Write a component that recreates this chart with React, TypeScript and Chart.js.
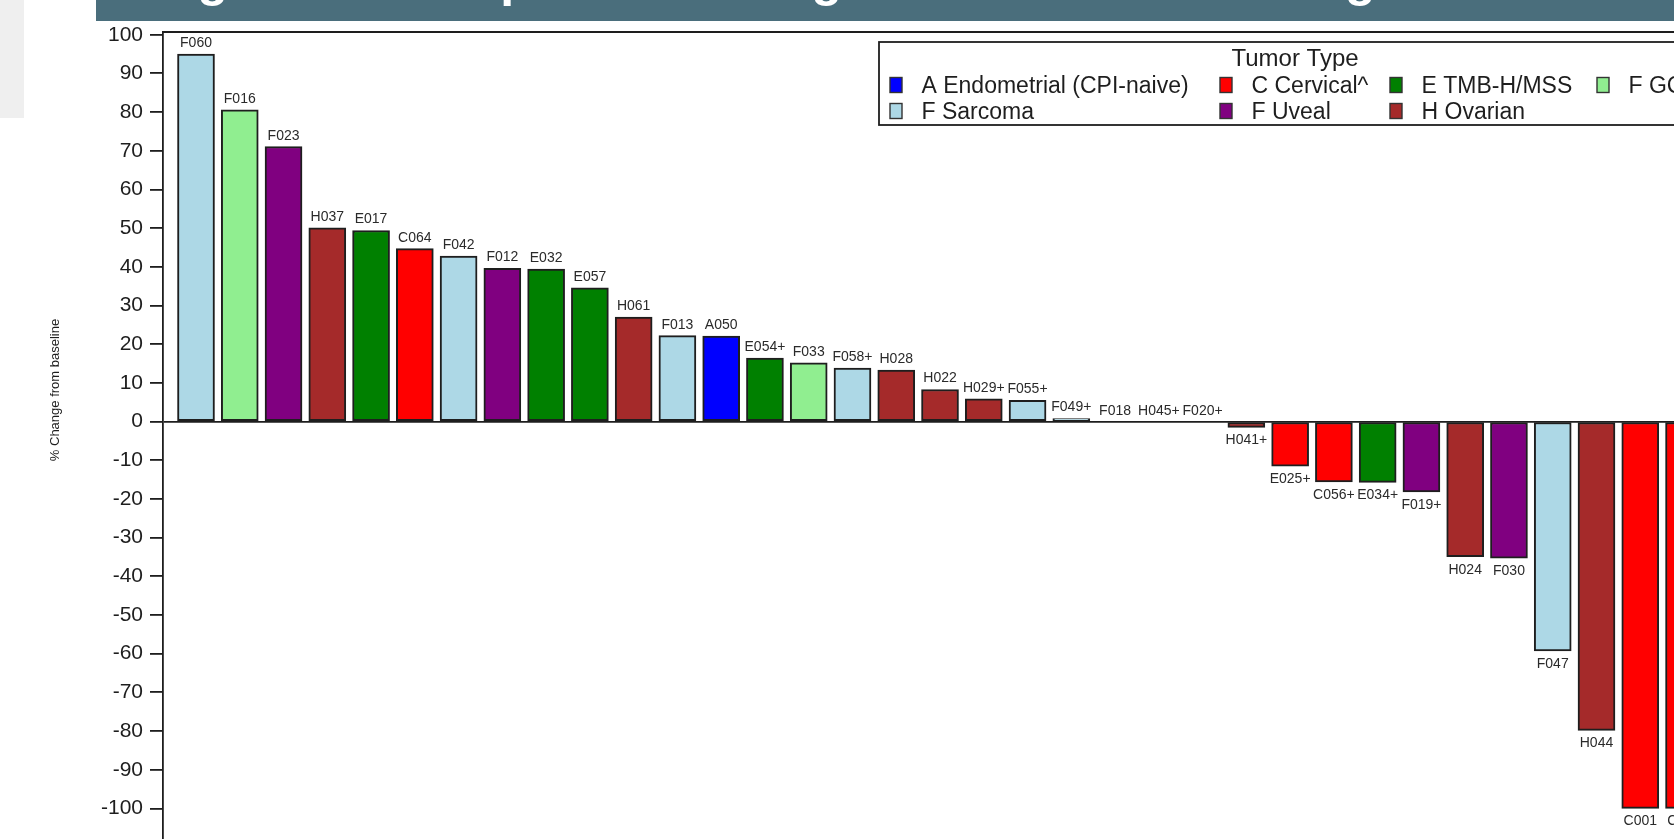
import React, { useEffect, useRef } from "react";
import { Chart, registerables } from "chart.js";

Chart.register(...registerables);

// Patient identifiers, in waterfall order (largest growth first)
const PATIENTS = [
  "F060", "F016", "F023", "H037", "E017", "C064", "F042", "F012", "E032", "E057",
  "H061", "F013", "A050", "E054+", "F033", "F058+", "H028", "H022", "H029+", "F055+",
  "F049+", "F018", "H045+", "F020+", "H041+", "E025+", "C056+", "E034+", "F019+", "H024",
  "F030", "F047", "H044", "C001", "C026",
];

// Best % change from baseline for each patient
const CHANGE = [
  95, 80.6, 71.1, 50.1, 49.4, 44.7, 42.8, 39.6, 39.4, 34.6,
  27.0, 22.2, 22.1, 16.4, 15.2, 13.8, 13.3, 8.3, 5.9, 5.5,
  0.8, 0, 0, 0, -1.5, -11.5, -15.6, -15.7, -18.2, -34.9,
  -35.3, -59.3, -79.8, -100, -100,
];

// Tumor type of each bar
const TUMOR = [
  "Sarcoma", "GCT", "Uveal", "Ovarian", "TMB", "Cervical", "Sarcoma", "Uveal", "TMB", "TMB",
  "Ovarian", "Sarcoma", "Endometrial", "TMB", "GCT", "Sarcoma", "Ovarian", "Ovarian", "Ovarian", "Sarcoma",
  "Sarcoma", "Sarcoma", "Ovarian", "Sarcoma", "Ovarian", "Cervical", "Cervical", "TMB", "Uveal", "Ovarian",
  "Uveal", "Sarcoma", "Ovarian", "Cervical", "Cervical",
];

// Legend entries
const TYPE_KEYS = ["Endometrial", "Cervical", "TMB", "GCT", "Sarcoma", "Uveal", "Ovarian"];
const TYPE_LABELS = [
  "A Endometrial (CPI-naive)", "C Cervical^", "E TMB-H/MSS", "F GCT",
  "F Sarcoma", "F Uveal", "H Ovarian",
];
const TYPE_COLORS = ["#0000ff", "#ff0000", "#008000", "#90ee90", "#add8e6", "#800080", "#a52a2a"];

// Y axis tick values
const Y_TICKS = [100, 90, 80, 70, 60, 50, 40, 30, 20, 10, 0, -10, -20, -30, -40, -50, -60, -70, -80, -90, -100];

const Y_TITLE = "% Change from baseline";
const LEGEND_TITLE = "Tumor Type";
const HEADER = "Figure 2: Best percent change from baseline in target lesions";

const FONT = "'Liberation Sans', Arial, Helvetica, sans-serif";
const INK = "#1e1e1e";

const colorFor = (t: string) => TYPE_COLORS[TYPE_KEYS.indexOf(t)];

// Top frame line of the plot area
const framePlugin = {
  id: "frameTop",
  beforeDatasetsDraw(chart: any) {
    const { ctx, chartArea } = chart;
    ctx.save();
    ctx.strokeStyle = INK;
    ctx.lineWidth = 1.8;
    ctx.beginPath();
    ctx.moveTo(chartArea.left, chartArea.top);
    ctx.lineTo(chartArea.right, chartArea.top);
    ctx.stroke();
    ctx.restore();
  },
};

// Patient id above (growth) or below (shrinkage) each bar
const barLabelPlugin = {
  id: "barLabels",
  afterDatasetsDraw(chart: any) {
    const { ctx } = chart;
    const meta = chart.getDatasetMeta(0);
    ctx.save();
    ctx.font = `14px ${FONT}`;
    ctx.fillStyle = "#2a2a2a";
    ctx.textAlign = "center";
    ctx.textBaseline = "alphabetic";
    meta.data.forEach((bar: any, i: number) => {
      const { x, y } = bar.getProps(["x", "y"], true);
      if (CHANGE[i] >= 0) ctx.fillText(PATIENTS[i], x, y - 7);
      else ctx.fillText(PATIENTS[i], x, y + 17);
    });
    ctx.restore();
  },
};

// Rotated y axis title
const yTitlePlugin = {
  id: "yTitle",
  afterDraw(chart: any) {
    const { ctx } = chart;
    ctx.save();
    ctx.translate(55, 390);
    ctx.rotate(-Math.PI / 2);
    ctx.font = `13px ${FONT}`;
    ctx.fillStyle = INK;
    ctx.textAlign = "center";
    ctx.textBaseline = "middle";
    ctx.fillText(Y_TITLE, 0, 0);
    ctx.restore();
  },
};

// Boxed legend inside the plot area
const legendPlugin = {
  id: "tumorLegend",
  afterDraw(chart: any) {
    const { ctx } = chart;
    const left = 879, top = 42, bottom = 125, right = 1790;
    ctx.save();
    ctx.fillStyle = "#ffffff";
    ctx.fillRect(left, top, right - left, bottom - top);
    ctx.strokeStyle = INK;
    ctx.lineWidth = 1.8;
    ctx.strokeRect(left, top, right - left, bottom - top);

    ctx.fillStyle = INK;
    ctx.font = `24px ${FONT}`;
    ctx.textAlign = "center";
    ctx.textBaseline = "alphabetic";
    ctx.fillText(LEGEND_TITLE, 1295, 66);

    const cols = [890, 1220, 1390, 1597];
    const rows = [93, 119];
    ctx.font = `23px ${FONT}`;
    ctx.textAlign = "left";
    TYPE_LABELS.forEach((label, k) => {
      const col = k < 4 ? k : k - 4;
      const row = k < 4 ? 0 : 1;
      const mx = cols[col];
      const base = rows[row];
      ctx.fillStyle = TYPE_COLORS[k];
      ctx.fillRect(mx, base - 15.5, 12, 15);
      ctx.strokeStyle = "#333";
      ctx.lineWidth = 1.4;
      ctx.strokeRect(mx, base - 15.5, 12, 15);
      ctx.fillStyle = INK;
      ctx.fillText(label, mx + 31.5, base);
    });
    ctx.restore();
  },
};

function WaterfallChart() {
  const ref = useRef<HTMLCanvasElement | null>(null);

  useEffect(() => {
    if (!ref.current) return;
    const chart = new Chart(ref.current, {
      type: "bar",
      data: {
        datasets: [
          {
            data: CHANGE.map((v, i) => ({ x: i, y: v })),
            backgroundColor: TUMOR.map(colorFor),
            borderColor: INK,
            borderWidth: 2,
            borderSkipped: false,
            barThickness: 37,
          } as any,
        ],
      },
      options: {
        animation: false,
        responsive: false,
        maintainAspectRatio: false,
        layout: { padding: { top: 32, left: 0, right: 0, bottom: 0 } },
        plugins: {
          legend: { display: false },
          tooltip: { enabled: false },
        },
        scales: {
          x: {
            type: "linear",
            min: -0.754,
            max: 36.65,
            display: false,
            offset: false,
          },
          y: {
            min: -118.6,
            max: 100.7,
            afterBuildTicks: (s: any) => {
              s.ticks = Y_TICKS.map((v) => ({ value: v }));
            },
            afterFit: (s: any) => {
              s.width = 163;
            },
            border: { display: true, color: INK, width: 1.8 },
            grid: {
              drawOnChartArea: true,
              drawTicks: true,
              tickLength: 13,
              lineWidth: 1.8,
              tickColor: INK,
              color: (c: any) => (c.tick && c.tick.value === 0 ? INK : "rgba(0,0,0,0)"),
            },
            ticks: {
              color: INK,
              padding: 7,
              autoSkip: false,
              font: { family: FONT, size: 21 },
            },
          },
        },
      },
      plugins: [framePlugin, barLabelPlugin, yTitlePlugin, legendPlugin],
    });
    return () => chart.destroy();
  }, []);

  return (
    <canvas
      ref={ref}
      width={1800}
      height={900}
      style={{ position: "absolute", left: 0, top: 0, width: 1800, height: 900 }}
    />
  );
}

export default function App() {
  return (
    <div
      style={{
        position: "fixed",
        left: 0,
        top: 0,
        width: 1674,
        height: 839,
        overflow: "hidden",
        background: "#ffffff",
      }}
    >
      <WaterfallChart />
      <div
        style={{
          position: "absolute",
          left: 0,
          top: 0,
          width: 24,
          height: 118,
          background: "#efefef",
        }}
      />
      <div
        style={{
          position: "absolute",
          left: 96,
          top: 0,
          width: 1578,
          height: 21,
          background: "#4a6e7c",
          overflow: "hidden",
        }}
      >
        <div
          style={{
            position: "absolute",
            left: 57,
            top: -46,
            whiteSpace: "nowrap",
            color: "#ffffff",
            fontFamily: FONT,
            fontWeight: 700,
            fontSize: 50,
            lineHeight: "50px",
          }}
        >
          {HEADER}
        </div>
      </div>
    </div>
  );
}
